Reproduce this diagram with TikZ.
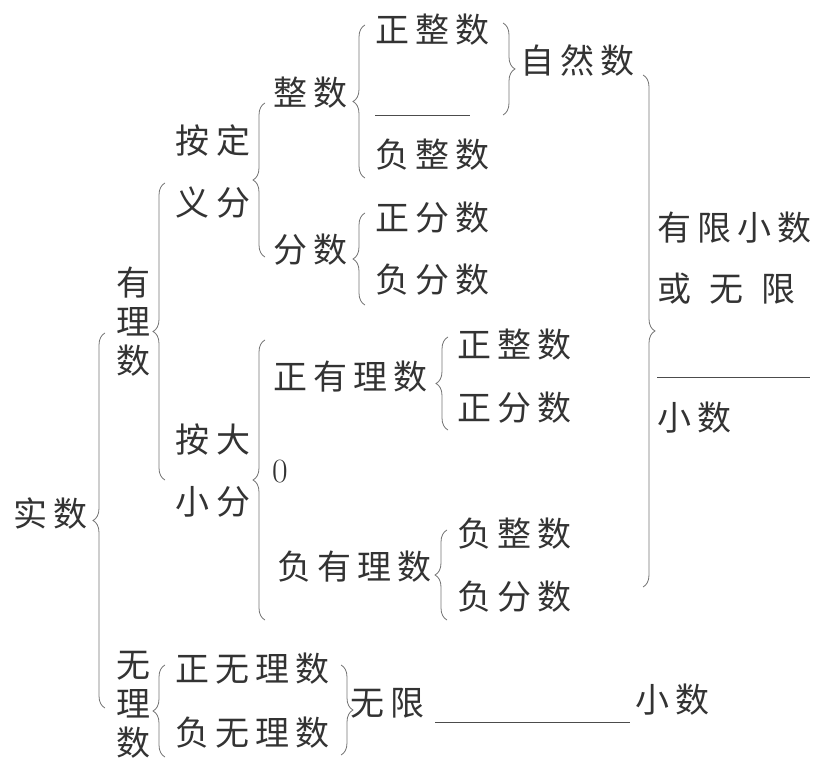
\documentclass[tikz,border=0pt]{standalone}
\usepackage{fontspec}
\newfontfamily\cjk[LetterSpace=18]{Noto Sans CJK SC}
\usetikzlibrary{decorations.pathreplacing}
\begin{document}
\begin{tikzpicture}[x=1pt,y=-1pt,
		lbl/.style={anchor=west,inner sep=0pt,text=black!80,font=\cjk\fontsize{34}{39}\selectfont},
		vlbl/.style={inner sep=0pt,align=center,text=black!80,font=\cjk\fontsize{34}{39}\selectfont},
		two/.style={inner sep=0pt,align=center,text=black!80,font=\cjk\fontsize{34}{62}\selectfont},
		brc/.style={decorate,decoration={brace,amplitude=12pt},draw=black!55,line width=0.8pt},
		blank/.style={draw=black!70,line width=0.8pt}]
				\useasboundingbox (0,0) rectangle (828,767);
				\node[lbl] (shishu) at (13,514){实数};
				\node[vlbl] (youli) at (133,322){有\\理\\数};
				\node[two] (anding) at (213,172){按定\\义分};
				\node[two] (anda) at (213,471){按大\\小分};
				\node[lbl] (zhengshu) at (273,93){整数};
				\node[lbl] (fenshu) at (273,250){分数};
				\node[lbl] (zzs1) at (375,30){正整数};
				\node[lbl] (fzs1) at (375,155){负整数};
				\node[lbl] (zfs1) at (375,218){正分数};
				\node[lbl] (ffs1) at (375,280){负分数};
				\node[lbl] (ziran) at (520,60){自然数};
				\node[lbl] (youxian) at (657,228){有限小数};
				\node[lbl] (huowuxian) at (657,289){或\hspace{18pt}无\hspace{18pt}限};
				\node[lbl] (xiaoshu1) at (657,418){小数};
				\node[lbl] (zyls) at (273,377){正有理数};
				\node[anchor=west,inner sep=0pt,text=black!80,font=\fontsize{34}{36}\selectfont] (ling) at (272,472){0};
				\node[lbl] (fyls) at (277,567){负有理数};
				\node[lbl] (zzs2) at (457,345){正整数};
				\node[lbl] (zfs2) at (457,408){正分数};
				\node[lbl] (fzs2) at (457,534){负整数};
				\node[lbl] (ffs2) at (457,597){负分数};
				\node[vlbl] (wuli) at (133,705){无\\理\\数};
				\node[lbl] (zwls) at (175,669){正无理数};
				\node[lbl] (fwls) at (175,733){负无理数};
				\node[lbl] (wuxian) at (350,703){无限};
				\node[lbl] (xiaoshu2) at (635,700){小数};
				% blanks
				\draw[blank](375,115)--(470,115);
				\draw[blank](657,377)--(810,377);
				\draw[blank](435,722)--(630,722);
				% left braces
				\draw[brc](105,708)--(105,333);
				\draw[brc](165,480)--(165,183);
				\draw[brc](265,257)--(265,103);
				\draw[brc](365,178)--(365,25);
				\draw[brc](365,305)--(365,213);
				\draw[brc](265,620)--(265,340);
				\draw[brc](448,430)--(448,337);
				\draw[brc](447,620)--(447,530);
				\draw[brc](165,757)--(165,665);
				% right braces
				\draw[brc](503,23)--(503,115);
				\draw[brc](643,75)--(643,587);
				\draw[brc](341,665)--(341,755);
\end{tikzpicture}
\end{document}
